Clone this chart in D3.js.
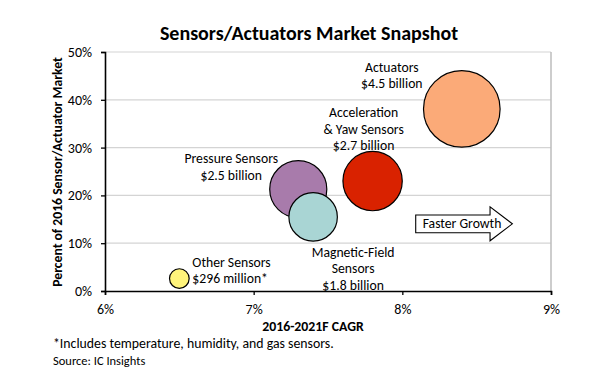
<!DOCTYPE html>
<html>
<head>
<meta charset="utf-8">
<script src="https://cdn.jsdelivr.net/npm/d3@7"></script>
<style>
  body { margin: 0; background: #fff; }
  svg { display: block; font-family: Carlito, Calibri, Lato, sans-serif; }
</style>
</head>
<body>
<div id="my_dataviz"></div>
<script>
// bubble data: x = 2016-2021F CAGR (%), y = share of 2016 market (%), size = 2016 sales ($B)
var names = ["Actuators", "Acceleration & Yaw Sensors", "Pressure Sensors", "Magnetic-Field Sensors", "Other Sensors"];
var cagr = [8.4, 7.8, 7.3, 7.4, 6.5];
var share = [38.1, 23.0, 21.3, 15.5, 2.6];
var sales = [4.5, 2.7, 2.5, 1.8, 0.296];
var labelLines = [
    ["Actuators", "$4.5 billion"],
    ["Acceleration", "& Yaw Sensors", "$2.7 billion"],
    ["Pressure Sensors", "$2.5 billion"],
    ["Magnetic-Field", "Sensors", "$1.8 billion"],
    ["Other Sensors", "$296 million*"]
];
var xTicks = [6, 7, 8, 9];
var yTicks = [0, 10, 20, 30, 40, 50];

// look
var colors = ["#fbaa78", "#d92200", "#a87bab", "#a9d5d4", "#fff47b"];
// label offset from bubble centre (px) and anchor
var labelPos = [
    { dx: -70, dy: -37, anchor: "middle" },
    { dx: -9, dy: -64, anchor: "middle" },
    { dx: -67, dy: -26, anchor: "middle" },
    { dx: 40, dy: 40, anchor: "middle" },
    { dx: 13, dy: -12, anchor: "start" }
];

var width = 600, height = 370;
var margin = { top: 52, right: 49, bottom: 79, left: 105 };
var w = width - margin.left - margin.right,
    h = height - margin.top - margin.bottom;

var svg = d3.select("#my_dataviz")
    .append("svg")
    .attr("width", width)
    .attr("height", height);

var g = svg.append("g")
    .attr("transform", "translate(" + margin.left + "," + margin.top + ")");

var x = d3.scaleLinear().domain([6, 9]).range([0, w]);
var y = d3.scaleLinear().domain([0, 50]).range([h, 0]);
var r = d3.scaleSqrt().domain([0, 4.5]).range([0, 38.3]);

// Title
svg.append("text")
    .attr("x", 309)
    .attr("y", 40)
    .attr("text-anchor", "middle")
    .style("font-size", "20px")
    .style("font-weight", "bold")
    .text("Sensors/Actuators Market Snapshot");

// gridlines
g.selectAll(".grid")
    .data(yTicks.slice(1))
    .enter().append("line")
    .attr("x1", 0).attr("x2", w)
    .attr("y1", function (d) { return y(d); })
    .attr("y2", function (d) { return y(d); })
    .style("stroke", "#d4d4d4")
    .style("stroke-width", 1.2);

// right frame
g.append("line")
    .attr("x1", w).attr("x2", w)
    .attr("y1", 0).attr("y2", h)
    .style("stroke", "#bdbdbd")
    .style("stroke-width", 1.5);

// axes
var yAxis = g.append("g")
    .call(d3.axisLeft(y).tickValues(yTicks).tickSize(4).tickPadding(9)
        .tickFormat(function (d) { return d + "%"; }));
var xAxis = g.append("g")
    .attr("transform", "translate(0," + h + ")")
    .call(d3.axisBottom(x).tickValues(xTicks).tickSize(4).tickPadding(9)
        .tickFormat(function (d) { return d + "%"; }));

[yAxis, xAxis].forEach(function (a) {
    a.select(".domain").style("stroke", "#000").style("stroke-width", 1.6);
    a.selectAll(".tick line").style("stroke", "#000").style("stroke-width", 1.3);
    a.selectAll("text")
        .style("font-family", "Carlito, Calibri, Lato, sans-serif")
        .style("font-size", "14px")
        .style("fill", "#000");
});

// axis titles
svg.append("text")
    .attr("transform", "translate(62,172) rotate(-90)")
    .attr("text-anchor", "middle")
    .style("font-size", "13.7px")
    .style("font-weight", "bold")
    .text("Percent of 2016 Sensor/Actuator Market");

svg.append("text")
    .attr("x", 313)
    .attr("y", 331)
    .attr("text-anchor", "middle")
    .style("font-size", "13.8px")
    .style("font-weight", "bold")
    .text("2016-2021F CAGR");

// footnotes
svg.append("text")
    .attr("x", 53)
    .attr("y", 348)
    .style("font-size", "13.8px")
    .text("*Includes temperature, humidity, and gas sensors.");

svg.append("text")
    .attr("x", 53)
    .attr("y", 365)
    .style("font-size", "12.5px")
    .text("Source: IC Insights");

// bubbles
var idx = d3.range(names.length);

g.selectAll(".bubble")
    .data(idx)
    .enter().append("circle")
    .attr("cx", function (i) { return x(cagr[i]); })
    .attr("cy", function (i) { return y(share[i]); })
    .attr("r", function (i) { return r(sales[i]); })
    .style("fill", function (i) { return colors[i]; })
    .style("stroke", "#000")
    .style("stroke-width", 1.2);

// bubble labels
idx.forEach(function (i) {
    var t = g.append("text")
        .attr("text-anchor", labelPos[i].anchor)
        .style("font-size", "13.7px");
    labelLines[i].forEach(function (line, k) {
        t.append("tspan")
            .attr("x", x(cagr[i]) + labelPos[i].dx)
            .attr("y", y(share[i]) + labelPos[i].dy + k * 16.5)
            .text(line);
    });
});

// "Faster Growth" arrow
var ax0 = x(8.09), ax1 = x(8.74), axb = x(8.59),
    ay0 = y(15.9), ay1 = y(12.2), ayT = y(17.6), ayB = y(10.5);
g.append("path")
    .attr("d", "M" + ax0 + "," + ay0 + "L" + axb + "," + ay0 + "L" + axb + "," + ayT +
        "L" + ax1 + "," + ((ay0 + ay1) / 2) + "L" + axb + "," + ayB + "L" + axb + "," + ay1 +
        "L" + ax0 + "," + ay1 + "Z")
    .style("fill", "#fff")
    .style("stroke", "#000")
    .style("stroke-width", 1.1);

g.append("text")
    .attr("x", (ax0 + ax1) / 2 - 2)
    .attr("y", (ay0 + ay1) / 2 + 4.5)
    .attr("text-anchor", "middle")
    .style("font-size", "13.7px")
    .text("Faster Growth");
</script>
</body>
</html>
